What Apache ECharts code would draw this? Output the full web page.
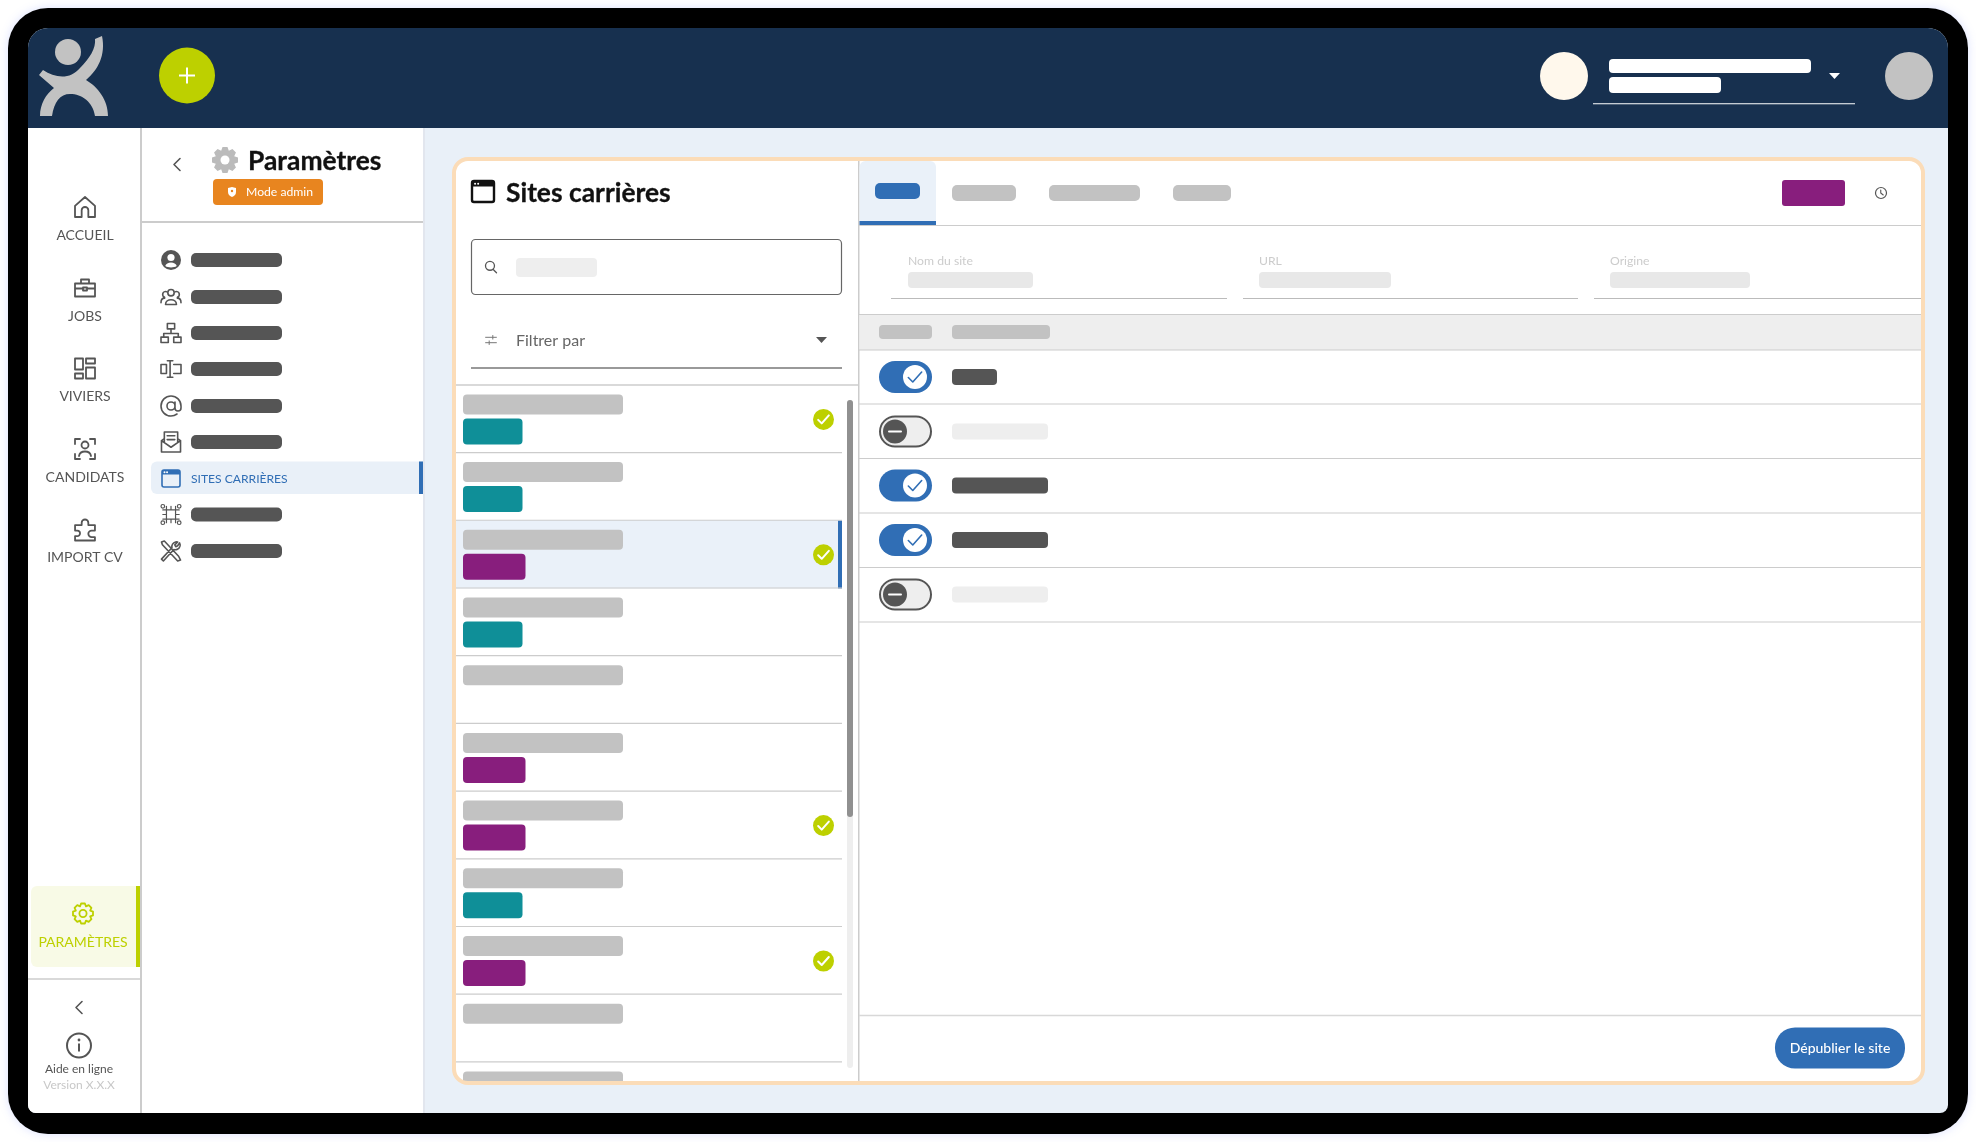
<!DOCTYPE html>
<html>
<head>
<meta charset="utf-8">
<title>Sites carrières</title>
<style>
  html, body { margin: 0; padding: 0; background: #fff; }
  #main { width: 1976px; height: 1142px; }
</style>
<script src="https://cdn.jsdelivr.net/npm/echarts@6/dist/echarts.min.js"></script>
</head>
<body>
<div id="main"></div>
<script>
// le contenu de la maquette
const navLabels = ['ACCUEIL', 'JOBS', 'VIVIERS', 'CANDIDATS', 'IMPORT CV'];
const menuActive = 'SITES CARRIÈRES';
const panelTitle = 'Paramètres';
const listTitle = 'Sites carrières';
const fieldLabels = ['Nom du site', 'URL', 'Origine'];
// t = sarcelle, p = violet, '' = pas d'étiquette
const rowTags = ['t', 't', 'p', 't', '', 'p', 'p', 't', 'p', ''];
const rowChecks = [1, 0, 1, 0, 0, 0, 1, 0, 1, 0];
const toggleStates = [1, 0, 1, 1, 0];

const BLUE = '#306eb5', LIME = '#bdd000', NAVY = '#17304f', DARK = '#555555';
const GREY = '#c2c2c2', LINE = '#cccccc', TEAL = '#0f8f98', PURPLE = '#881e7d';
const FONT = 'Lato, "Noto Sans", sans-serif';

const rect = (x, y, w, h, fill, r, extra) => ({
  type: 'rect',
  shape: { x, y, width: w, height: h, r: r || 0 },
  style: Object.assign({ fill }, extra)
});
const circle = (cx, cy, r, fill, extra) => ({
  type: 'circle',
  shape: { cx, cy, r },
  style: Object.assign({ fill }, extra)
});
const hline = (x1, x2, y, stroke, w) => rect(x1, y - (w || 1) / 2, x2 - x1, w || 1, stroke || LINE);
const text = (t, x, y, font, fill, align, extra) => ({
  type: 'text',
  style: Object.assign({
    text: t, x, y, fill,
    font: font + ' ' + FONT,
    align: align || 'left', verticalAlign: 'middle',
    textAlign: align || 'left', textVerticalAlign: 'middle'
  }, extra)
});
// icone en pathData, centree dans une boite
const icon = (pathData, cx, cy, w, h, stroke, lw, fill) => ({
  type: 'path',
  shape: { pathData, x: cx - w / 2, y: cy - h / 2, width: w, height: h },
  style: { fill: fill || 'none', stroke: stroke || 'none', lineWidth: lw || 0, lineCap: 'round', lineJoin: 'round' }
});
function gearPath(teeth, ro, ri) {
  let d = '';
  const step = Math.PI * 2 / teeth;
  for (let i = 0; i < teeth; i++) {
    const a = i * step;
    const pts = [[ri, a - step * 0.5], [ro, a - step * 0.24], [ro, a + step * 0.24]];
    pts.forEach((p, k) => {
      d += (i === 0 && k === 0 ? 'M' : 'L') + (p[0] * Math.cos(p[1])).toFixed(2) + ' ' + (p[0] * Math.sin(p[1])).toFixed(2) + ' ';
    });
  }
  return d + 'Z';
}
const CHECK = 'M0 5 L4 9 L12 0';
const CARET = 'M0 0 H11 L5.5 6 Z';

const navIcons = [
  'M3 11 L12 3 L21 11 V21 H15 V15 A3 3 0 0 0 9 15 V21 H3 Z',
  'M2 8 H22 V21 H2 Z M8 8 V4 H16 V8 M2 13 H10 M14 13 H22 M10 12 H14 V15 H10 Z',
  'M2 2 H10 V13 H2 Z M13 2 H22 V7 H13 Z M2 17 H10 V22 H2 Z M13 11 H22 V22 H13 Z',
  'M2 7 V2 H7 M17 2 H22 V7 M2 17 V22 H7 M17 22 H22 V17 M15.5 8 A3.5 3.5 0 1 1 8.5 8 A3.5 3.5 0 1 1 15.5 8 M6 19 C7 13 17 13 18 19',
  'M3 8 H9 V6 A3 3 0 0 1 15 6 V8 H21 V13 H18 A3 3 0 0 0 18 19 H21 V22 H3 V18 H5 A2.5 2.5 0 0 0 5 13 H3 Z'
];
const menuIcons = [
  null,
  'M8.5 7 A3.5 3.5 0 1 1 15.5 7 A3.5 3.5 0 1 1 8.5 7 M6 20 C6 13 18 13 18 20 Z M5 12 A3 3 0 1 1 7 6 M19 12 A3 3 0 1 0 17 6 M1 18 C1 14 3 13 5 13 M23 18 C23 14 21 13 19 13',
  'M8 1 H16 V7 H8 Z M12 7 V12 M4 12 H20 M4 12 V16 M20 12 V16 M1 16 H9 V22 H1 Z M15 16 H23 V22 H15 Z',
  'M1 7 H7 V17 H1 Z M11 3 V21 M8 3 H14 M8 21 H14 M15 7 H23 V17 H15',
  'M16 12 A4 4 0 1 1 8 12 A4 4 0 1 1 16 12 M16 8 V14 A3 3 0 0 0 22 14 V12 A10 10 0 1 0 18 20',
  'M2 11 L12 18 L22 11 V23 H2 Z M5 13 V2 H19 V13 M8 6 H16 M8 10 H16 M2 11 L5 9 M22 11 L19 9',
  null,
  // puce API : broches terminees par de petits ronds
  'M7 7 H17 V17 H7 Z M3 7 H7 M3 12 H7 M3 17 H7 M17 7 H21 M17 12 H21 M17 17 H21 M7 3 V7 M12 3 V7 M17 3 V7 M7 17 V21 M12 17 V21 M17 17 V21 ' +
    'M3 1 A2 2 0 1 1 3 5 A2 2 0 1 1 3 1 M21 1 A2 2 0 1 1 21 5 A2 2 0 1 1 21 1 M3 19 A2 2 0 1 1 3 23 A2 2 0 1 1 3 19 M21 19 A2 2 0 1 1 21 23 A2 2 0 1 1 21 19',
  'M3 21 L14 9 A5 5 0 0 1 20 3 L17 6 L18 8 L20 7 L22 4 A5 5 0 0 1 16 11 L5 23 Z M3 3 L6 2 L21 18 L23 22 L20 23 L4 6 Z'
];

function browserIcon(c, x, y, w, h, color, lw) {
  c.push(rect(x, y, w, h, 'none', 2, { stroke: color, lineWidth: lw }));
  c.push(rect(x, y, w, h * 0.26, color, [2, 2, 0, 0]));
  c.push(circle(x + w * 0.14, y + h * 0.13, 1, '#fff'), circle(x + w * 0.28, y + h * 0.13, 1, '#fff'));
}

function renderAll() {
  const c = [];

  // cadre
  c.push(rect(8, 8, 1960, 1126, '#000', 40, { shadowBlur: 10, shadowColor: 'rgba(120,140,255,0.25)' }));
  c.push(rect(28, 28, 1920, 1085, '#e9f0f8', [20, 20, 8, 8]));
  c.push(rect(28, 28, 1920, 100, NAVY, [20, 20, 0, 0]));

  // en-tete
  c.push(circle(68, 52, 13, GREY));
  c.push(icon('M102 36 C106 55 98 70 86 80 C98 87 108 100 108 116 L95 116 C93 102 82 94 70 94 C60 94 54 102 52 116 L40 116 C40 104 46 94 54 88 L39 75 L43 70 C55 78 70 80 80 68 C90 58 96 48 95 39 Z',
    73.5, 76, 69, 80, null, 0, GREY));
  c.push(circle(187, 75.5, 28, LIME));
  c.push(rect(179, 74.5, 16, 2, '#fff'), rect(186, 67.5, 2, 16, '#fff'));
  c.push(circle(1564, 76, 24, '#fff8ec'));
  c.push(rect(1609, 59, 202, 14, '#fff', 4), rect(1609, 77, 112, 16, '#fff', 4));
  c.push(icon(CARET, 1834.5, 76, 11, 6, null, 0, '#fff'));
  c.push(hline(1593, 1855, 103.7, '#fff', 1));
  c.push(circle(1909, 76, 24, GREY));

  // navigation gauche
  c.push(rect(28, 128, 112, 985, '#fff', [0, 0, 0, 8]));
  c.push(rect(140, 128, 283, 985, '#fff'));
  c.push(rect(140, 128, 2, 985, LINE));
  c.push(rect(423, 128, 2, 985, '#e2e6ee'));
  const navIconY = [207, 288, 368.5, 449, 530];
  const navTextY = [235, 316, 396.5, 477, 557.5];
  navLabels.forEach((l, i) => {
    c.push(icon(navIcons[i], 85, navIconY[i], 20, 21, DARK, 1.8));
    c.push(text(l, 85, navTextY[i], '14px', DARK, 'center'));
  });
  c.push(rect(31, 886, 109, 81, '#f8fae6', [6, 0, 0, 6]));
  c.push(rect(136, 886, 4, 81, LIME));
  c.push(icon(gearPath(8, 10, 7.6), 83, 913.5, 20, 20, LIME, 1.8));
  c.push(circle(83, 913.5, 3.6, 'none', { stroke: LIME, lineWidth: 1.8 }));
  c.push(text('PARAMÈTRES', 83, 942, '14px', LIME, 'center'));
  c.push(hline(28, 140, 979, LINE, 1.5));
  c.push(icon('M6 0 L0 6 L6 12', 79, 1007.5, 6, 12, DARK, 1.6));
  c.push(circle(79, 1045.5, 12, 'none', { stroke: DARK, lineWidth: 2 }));
  c.push(circle(79, 1040, 1.4, DARK), rect(78, 1043.5, 2, 8, DARK));
  c.push(text('Aide en ligne', 79, 1069, '12px', DARK, 'center'));
  c.push(text('Version X.X.X', 79, 1085.5, '12px', '#c8c8c8', 'center'));

  // panneau parametres
  c.push(icon('M6 0 L0 6 L6 12', 177, 164.5, 6, 12, DARK, 1.6));
  c.push(icon(gearPath(8, 13, 9.8), 225, 160, 26, 26, null, 0, '#bbbbbb'), circle(225, 160, 4.5, '#fff'));
  c.push(text(panelTitle, 248, 161.5, 'bold 26.4px', '#111', 'left', { stroke: '#111', lineWidth: 0.3 }));
  c.push(rect(213, 179, 110, 26, '#e8851f', 4));
  c.push(icon('M0 1 L4 0 L8 1 V5 C8 8 6 9 4 10 C2 9 0 8 0 5 Z', 232, 192, 8, 10, null, 0, '#fff'));
  c.push(circle(232, 191, 1.2, '#e8851f'));
  c.push(text('Mode admin', 246, 192.5, '12.2px', '#fff'));
  c.push(hline(141, 423, 222, LINE, 2));

  const menuY = [260, 297, 333, 369, 406, 442, 478, 514.5, 551];
  menuY.forEach((y, i) => {
    if (i === 6) {
      c.push(rect(151, 461.5, 272, 32.5, '#e9f0f8', [6, 0, 0, 6]));
      c.push(rect(419, 461.5, 4, 32.5, BLUE));
      browserIcon(c, 162, 470, 18, 17, BLUE, 1.6);
      c.push(text(menuActive, 191, 479, '12.1px', BLUE));
      return;
    }
    if (i === 0) {
      c.push(circle(171, y, 10, DARK), circle(171, y - 2.5, 3.6, '#fff'));
      c.push(icon('M0 5 C1 0 11 0 12 5 C9 7 3 7 0 5 Z', 171, y + 5, 12, 5, null, 0, '#fff'));
    } else {
      c.push(icon(menuIcons[i], 171, y, 20, 20, DARK, i === 7 ? 1.2 : 1.6));
    }
    c.push(rect(191, y - 7, 91, 14, DARK, 5));
  });

  // carte principale
  c.push(rect(454, 159, 1469, 924, '#fff', 14));

  // colonne liste
  browserIcon(c, 472, 181, 22, 21, '#111', 2.4);
  c.push(text(listTitle, 506, 193.5, 'bold 26.4px', '#111', 'left', { stroke: '#111', lineWidth: 0.3 }));
  c.push(rect(471.5, 239.5, 370, 55, '#fff', 4, { stroke: '#666', lineWidth: 1.2 }));
  c.push(icon('M9 2 A5.5 5.5 0 1 1 9 13 A5.5 5.5 0 1 1 9 2 M13 12 L17 16', 491, 267, 11, 12, DARK, 1.3));
  c.push(icon('M0 3 H12 M0 9 H12 M8 1 V5 M4 7 V11', 491, 340, 11, 9, '#777', 1));
  c.push(rect(516, 258, 81, 19, '#eeeeee', 4));
  c.push(text('Filtrer par', 516, 341, '16px', '#666'));
  c.push(icon(CARET, 821.5, 340, 11, 6, null, 0, DARK));
  c.push(hline(471, 842, 368, '#777', 1.6));
  c.push(hline(456, 858, 385, LINE, 1.5));

  const rowH = 67.7, rowTop = 385.4;
  rowTags.forEach((tag, i) => {
    const top = rowTop + i * rowH;
    if (i === 2) {
      c.push(rect(456, top, 386, rowH, '#eaf1f9'));
      c.push(rect(838, top, 4, rowH, BLUE));
    }
    c.push(rect(463, top + 9, 160, 20, GREY, 4));
    if (tag === 't') c.push(rect(463, top + 33, 59.5, 26, TEAL, 4));
    if (tag === 'p') c.push(rect(463, top + 33, 62.5, 26, PURPLE, 4));
    if (rowChecks[i]) {
      c.push(circle(823.5, top + 34, 10.5, LIME));
      c.push(icon(CHECK, 823.5, top + 34, 11, 8, '#fff', 2));
    }
    c.push(hline(456, 842, top + rowH - 0.5, LINE, 1.2));
  });
  // ligne coupee par le bas de la carte
  c.push(rect(463, rowTop + 10 * rowH + 9, 160, 10, GREY, [4, 4, 0, 0]));

  // ascenseur
  c.push(rect(847, 400, 6, 668, '#eeeeee', 3));
  c.push(rect(847, 400, 6, 417, '#909090', 3));
  c.push(rect(858, 159, 1.5, 924, LINE));

  // onglets
  c.push(rect(859.5, 161, 76.5, 60, '#eaf1f9', [6, 6, 0, 0]));
  c.push(hline(859, 1921, 225.5, LINE, 1.2));
  c.push(rect(859.5, 221, 76.5, 4, BLUE));
  c.push(rect(875, 183, 45, 16, BLUE, 5));
  c.push(rect(952, 185, 64, 16, GREY, 5));
  c.push(rect(1049, 185, 91, 16, GREY, 5));
  c.push(rect(1173, 185, 58, 16, GREY, 5));
  c.push(rect(1782, 180, 63, 26, PURPLE, 3));
  c.push(circle(1881, 193, 5.5, 'none', { stroke: DARK, lineWidth: 1.2 }));
  c.push(icon('M0 0 V3 L2.5 5', 1882, 192.5, 3, 5, DARK, 1.1));

  // champs
  const fieldX = [908, 1259, 1610], fieldW = [125, 132, 140];
  const lineX = [[891, 1227], [1243, 1578], [1594, 1921]];
  fieldLabels.forEach((l, i) => {
    c.push(text(l, fieldX[i], 261.5, '12.2px', '#cccccc'));
    c.push(rect(fieldX[i], 272, fieldW[i], 16, '#e8e8e8', 4));
    c.push(hline(lineX[i][0], lineX[i][1], 298.5, '#bbbbbb', 1));
  });

  // tableau
  c.push(rect(859.5, 314, 1062, 36, '#eeeeee'));
  c.push(hline(859, 1921, 314.5, LINE, 1.2), hline(859, 1921, 350, LINE, 1.2));
  c.push(rect(879, 325, 53, 14, GREY, 4), rect(952, 325, 98, 14, GREY, 4));
  const toggleY = [377, 431.5, 485.5, 540, 594.5], sepY = [404, 458.5, 513, 567.5, 622];
  toggleStates.forEach((on, i) => {
    const y = toggleY[i];
    if (on) {
      c.push(rect(879, y - 16, 53, 32, BLUE, 16));
      c.push(circle(915, y, 12, '#fff'));
      c.push(icon(CHECK, 915, y, 14, 10, BLUE, 1.6));
    } else {
      c.push(rect(880, y - 15, 51, 30, '#eeeeee', 15, { stroke: DARK, lineWidth: 2 }));
      c.push(circle(895, y, 12, DARK));
      c.push(rect(888, y - 1, 14, 2, '#fff', 1));
    }
    const w = i === 0 ? 45 : 96;
    c.push(rect(952, y - 8, w, 16, on ? DARK : '#eeeeee', 4));
    c.push(hline(859, 1921, sepY[i], LINE, 1.2));
  });

  // pied
  c.push(hline(859, 1921, 1015.5, '#d8d8d8', 1.5));
  c.push(rect(1775, 1027.5, 130, 41, BLUE, 20));
  c.push(text('Dépublier le site', 1840, 1048.5, '500 14px', '#fff', 'center'));

  // bord orange par-dessus
  c.push(rect(454, 159, 1469, 924, 'none', 14, { stroke: '#fbdcb8', lineWidth: 4 }));

  return { type: 'group', children: c };
}

const chart = echarts.init(document.getElementById('main'), null, { renderer: 'canvas' });
chart.setOption({
  animation: false,
  backgroundColor: '#ffffff',
  series: [{
    type: 'custom',
    coordinateSystem: 'none',
    silent: true,
    data: [0],
    renderItem: renderAll
  }]
});
</script>
</body>
</html>
